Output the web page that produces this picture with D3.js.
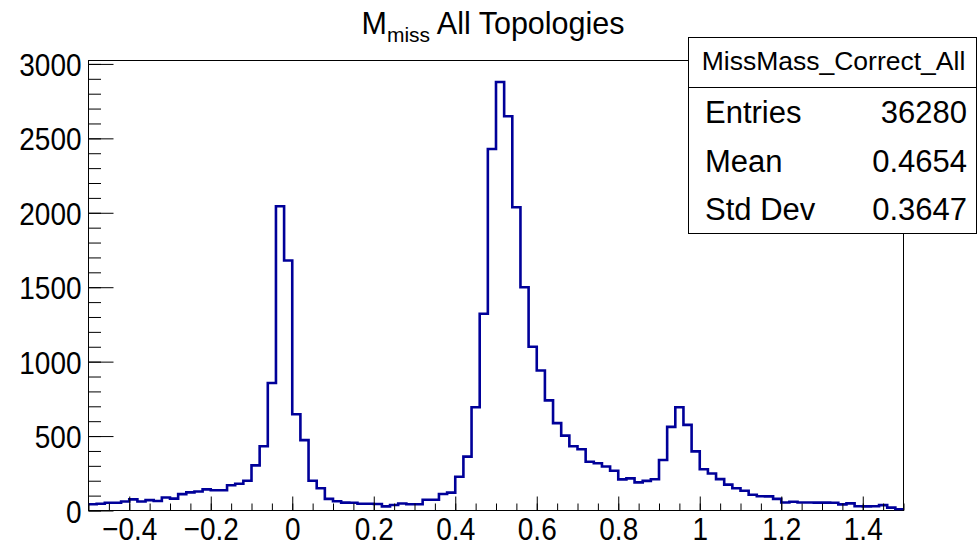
<!DOCTYPE html>
<html>
<head>
<meta charset="utf-8">
<script src="https://cdn.jsdelivr.net/npm/d3@7"></script>
<style>
  html, body { margin: 0; padding: 0; background: #fff; }
  svg { display: block; font-family: "Liberation Sans", Arial, Helvetica, sans-serif; }
</style>
</head>
<body>
<svg id="chart" width="978" height="547"></svg>
<script>
// Histogram binning: 100 bins from -0.5 to 1.5
const xMin = -0.5;
const xMax = 1.5;
const binWidth = 0.02;

// Bin contents (counts per bin)
const binCounts = [
  42, 45, 52, 52, 60, 75, 60, 70, 64, 87,
  80, 110, 122, 128, 142, 136, 136, 170, 180, 200,
  303, 432, 857, 2044, 1679, 647, 473, 200, 149, 78,
  62, 53, 52, 45, 45, 44, 28, 37, 47, 42,
  42, 72, 72, 111, 120, 227, 362, 694, 1322, 2428,
  2879, 2648, 2037, 1500, 1100, 940, 740, 587, 503, 432,
  411, 327, 317, 296, 267, 209, 216, 189, 199, 210,
  339, 562, 694, 575, 397, 277, 249, 211, 174, 149,
  133, 106, 96, 95, 78, 54, 59, 54, 54, 53,
  53, 52, 41, 48, 29, 28, 29, 36, 19, 8
];

// Axis tick labels
const xTickValues = [-0.4, -0.2, 0, 0.2, 0.4, 0.6, 0.8, 1, 1.2, 1.4];
const yTickValues = [0, 500, 1000, 1500, 2000, 2500, 3000];

// Statistics box contents
const statsTitle = "MissMass_Correct_All";
const statsLabels = ["Entries", "Mean", "Std Dev"];
const statsValues = ["36280", "0.4654", "0.3647"];

const lineColor = "#000099";
const labelStretch = 1.15;   // axis labels are drawn slightly tall

const frame = { left: 88.5, right: 903.5, top: 60.5, bottom: 510.5 };
const yMax = 1.05 * d3.max(binCounts);

const x = d3.scaleLinear().domain([xMin, xMax]).range([frame.left, frame.right]);
const y = d3.scaleLinear().domain([0, yMax]).range([frame.bottom, frame.top]);

const svg = d3.select("#chart");

// Frame
svg.append("rect")
  .attr("x", frame.left).attr("y", frame.top)
  .attr("width", frame.right - frame.left)
  .attr("height", frame.bottom - frame.top)
  .attr("fill", "none").attr("stroke", "#000").attr("stroke-width", 1);

svg.append("clipPath").attr("id", "frameClip")
  .append("rect")
  .attr("x", frame.left).attr("y", frame.top - 2)
  .attr("width", frame.right - frame.left)
  .attr("height", frame.bottom - frame.top + 2);

// Histogram outline as a step line through bin edges
const stepPoints = binCounts.map((v, i) => [xMin + i * binWidth, v]);
stepPoints.push([xMin + binCounts.length * binWidth, binCounts[binCounts.length - 1]]);

const stepLine = d3.line()
  .x(d => x(d[0]))
  .y(d => y(d[1]))
  .curve(d3.curveStepAfter);

svg.append("path")
  .datum(stepPoints)
  .attr("d", stepLine)
  .attr("fill", "none")
  .attr("stroke", lineColor)
  .attr("stroke-width", 2.6)
  .attr("stroke-linejoin", "miter")
  .attr("clip-path", "url(#frameClip)");

// X axis: major ticks every 0.2, minor every 0.05
const fmtX = v => (v < 0 ? "\u2212" + d3.format("")(Math.abs(v)) : d3.format("")(v));
const xMinor = d3.range(-0.5, 1.5001, 0.05).map(v => +v.toFixed(2));
const xAxisMinor = d3.axisTop(x).tickValues(xMinor).tickSize(7).tickFormat("");
const xAxisMajor = d3.axisTop(x).tickValues(xTickValues).tickSize(14).tickFormat("");

[xAxisMinor, xAxisMajor].forEach(ax => {
  const g = svg.append("g").attr("transform", `translate(0,${frame.bottom})`).call(ax);
  g.select(".domain").remove();
  g.selectAll("line").attr("stroke", "#000").attr("stroke-width", 1);
});

const xLabels = d3.axisBottom(x).tickValues(xTickValues).tickSize(0).tickPadding(0).tickFormat(fmtX);
const gxl = svg.append("g").attr("transform", `translate(0,${frame.bottom})`).call(xLabels);
gxl.select(".domain").remove();
gxl.selectAll("text")
  .attr("y", 29.5 / labelStretch).attr("dy", null)
  .attr("transform", `scale(1,${labelStretch})`)
  .attr("font-size", 28)
  .attr("font-family", "Liberation Sans, Arial, sans-serif")
  .attr("fill", "#000");

// Y axis: major ticks every 500, minor every 100
const yMinor = d3.range(0, 3001, 100);
const yAxisMinor = d3.axisRight(y).tickValues(yMinor).tickSize(12.5).tickFormat("");
const yAxisMajor = d3.axisRight(y).tickValues(yTickValues).tickSize(25).tickFormat("");
[yAxisMinor, yAxisMajor].forEach(ax => {
  const g = svg.append("g").attr("transform", `translate(${frame.left},0)`).call(ax);
  g.select(".domain").remove();
  g.selectAll("line").attr("stroke", "#000").attr("stroke-width", 1);
});

const yLabels = d3.axisLeft(y).tickValues(yTickValues).tickSize(0).tickPadding(7).tickFormat(d3.format(""));
const gyl = svg.append("g").attr("transform", `translate(${frame.left},0)`).call(yLabels);
gyl.select(".domain").remove();
gyl.selectAll("text")
  .attr("dy", "0.36em")
  .attr("transform", `scale(1,${labelStretch})`)
  .attr("font-size", 28)
  .attr("font-family", "Liberation Sans, Arial, sans-serif")
  .attr("fill", "#000");

// Title with subscript
const title = svg.append("text")
  .attr("x", 493).attr("y", 34)
  .attr("text-anchor", "middle")
  .attr("font-size", 30.5)
  .attr("fill", "#000");
title.append("tspan").text("M");
title.append("tspan").attr("font-size", 21).attr("dy", 8).text("miss");
title.append("tspan").attr("dy", -8).text(" All Topologies");

// Statistics box
const box = { left: 688.5, right: 976.5, top: 37.5, header: 87.5, bottom: 233.5 };
svg.append("rect")
  .attr("x", box.left).attr("y", box.top)
  .attr("width", box.right - box.left).attr("height", box.bottom - box.top)
  .attr("fill", "#fff").attr("stroke", "#000").attr("stroke-width", 1);
svg.append("line")
  .attr("x1", box.left).attr("x2", box.right)
  .attr("y1", box.header).attr("y2", box.header)
  .attr("stroke", "#000").attr("stroke-width", 1);

svg.append("text")
  .attr("x", (box.left + box.right) / 2 + 1).attr("y", 70)
  .attr("text-anchor", "middle")
  .attr("font-size", 26.5)
  .attr("fill", "#000")
  .text(statsTitle);

const rowBaselines = [123, 172, 220];
statsLabels.forEach((lab, i) => {
  svg.append("text")
    .attr("x", 705).attr("y", rowBaselines[i])
    .attr("font-size", 31).attr("fill", "#000")
    .text(lab);
  svg.append("text")
    .attr("x", 967).attr("y", rowBaselines[i])
    .attr("text-anchor", "end")
    .attr("font-size", 31).attr("fill", "#000")
    .text(statsValues[i]);
});
</script>
</body>
</html>
